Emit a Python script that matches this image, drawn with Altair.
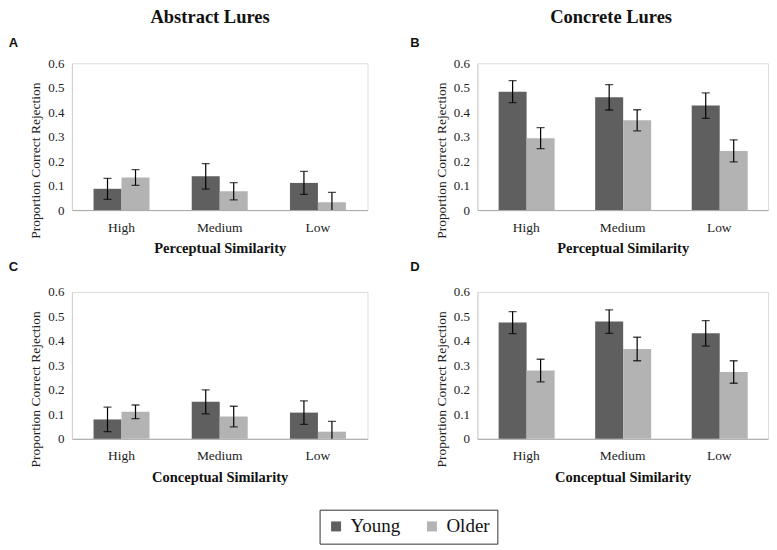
import altair as alt
import pandas as pd

levels = ["High", "Medium", "Low"]
groups = ["Young", "Older"]
colors = ["#5f5f5f", "#b3b3b3"]

# Panel A: Abstract lures, perceptual similarity
A_young = [0.087, 0.138, 0.111]
A_young_err = [0.043, 0.052, 0.047]
A_older = [0.133, 0.077, 0.032]
A_older_err = [0.032, 0.035, 0.040]

# Panel B: Concrete lures, perceptual similarity
B_young = [0.484, 0.461, 0.427]
B_young_err = [0.045, 0.052, 0.052]
B_older = [0.294, 0.367, 0.242]
B_older_err = [0.043, 0.043, 0.045]

# Panel C: Abstract lures, conceptual similarity
C_young = [0.079, 0.151, 0.107]
C_young_err = [0.050, 0.049, 0.048]
C_older = [0.110, 0.091, 0.029]
C_older_err = [0.028, 0.042, 0.042]

# Panel D: Concrete lures, conceptual similarity
D_young = [0.475, 0.479, 0.431]
D_young_err = [0.045, 0.048, 0.052]
D_older = [0.279, 0.367, 0.273]
D_older_err = [0.046, 0.048, 0.046]

y_ticks = [0, 0.1, 0.2, 0.3, 0.4, 0.5, 0.6]

SERIF = "Liberation Serif"
SANS = "Liberation Sans"
YTITLE = "Proportion Correct Rejection"


def panel(young, yerr, older, oerr, letter, xtitle, width, letter_dx, letter_offset):
    df = pd.DataFrame({
        "level": levels * 2,
        "group": ["Young"] * 3 + ["Older"] * 3,
        "value": young + older,
        "err": yerr + oerr,
    })
    base = alt.Chart(df).transform_calculate(
        lo="datum.value - datum.err", hi="datum.value + datum.err"
    )
    x = alt.X(
        "level:N", sort=levels, title=xtitle,
        scale=alt.Scale(paddingInner=0.43, paddingOuter=0.22),
        axis=alt.Axis(labelAngle=0, ticks=False, domainColor="#a6a6a6",
                      labelFont=SERIF, labelFontSize=13.5, labelColor="#222222",
                      labelPadding=10, titleFont=SERIF, titleFontSize=14.5,
                      titleFontWeight="bold", titleColor="#111111", titlePadding=8),
    )
    xo = alt.XOffset("group:N", sort=groups,
                     scale=alt.Scale(paddingInner=0, paddingOuter=0))
    yscale = alt.Scale(domain=[0, 0.6], nice=False)
    yaxis = alt.Axis(values=y_ticks, format="~g", ticks=False, grid=False,
                     domainColor="#d0d0d0", labelFont=SERIF, labelFontSize=13,
                     labelColor="#222222", labelPadding=8, titleFont=SERIF,
                     titleFontSize=13.5, titleFontWeight="normal",
                     titleColor="#222222", titlePadding=5, titleY=97)
    color = alt.Color(
        "group:N", sort=groups,
        scale=alt.Scale(domain=groups, range=colors),
        legend=alt.Legend(title=None, orient="none", direction="horizontal",
                          legendX=248, legendY=447, symbolType="square",
                          symbolSize=100, symbolStrokeWidth=0,
                          labelFont=SERIF, labelFontSize=19,
                          labelColor="#111111", labelOffset=5,
                          columnPadding=22, padding=7,
                          strokeColor="#333333"),
    )
    bars = base.mark_bar().encode(
        x=x, xOffset=xo,
        y=alt.Y("value:Q", scale=yscale, axis=yaxis, title=YTITLE),
        color=color,
    )
    rule = base.mark_rule(color="black", strokeWidth=1.2, clip=True).encode(
        x=x, xOffset=xo,
        y=alt.Y("lo:Q", scale=yscale, axis=yaxis, title=YTITLE),
        y2="hi:Q",
    )
    cap_hi = base.mark_tick(color="black", size=8, thickness=1.3, clip=True).encode(
        x=x, xOffset=xo,
        y=alt.Y("hi:Q", scale=yscale, axis=yaxis, title=YTITLE),
    )
    cap_lo = base.mark_tick(color="black", size=8, thickness=1.3, clip=True).encode(
        x=x, xOffset=xo,
        y=alt.Y("lo:Q", scale=yscale, axis=yaxis, title=YTITLE),
    )
    return alt.layer(bars, rule, cap_lo, cap_hi).properties(
        width=width, height=147,
        title=alt.TitleParams(letter, anchor="start", frame="bounds",
                              font=SANS, fontSize=13, fontWeight="bold",
                              color="#111111", dx=letter_dx, offset=letter_offset),
    )


pA = panel(A_young, A_young_err, A_older, A_older_err, "A", "Perceptual Similarity", 296, -20, 7)
pB = panel(B_young, B_young_err, B_older, B_older_err, "B", "Perceptual Similarity", 291, -24, 7)
pC = panel(C_young, C_young_err, C_older, C_older_err, "C", "Conceptual Similarity", 296, -20, 12)
pD = panel(D_young, D_young_err, D_older, D_older_err, "D", "Conceptual Similarity", 291, -24, 12)

col_title = dict(font=SERIF, fontSize=18.5, fontWeight="bold", color="#111111",
                 anchor="middle", dx=22, offset=10)

left = alt.vconcat(pA, pC, spacing=4,
                   title=alt.TitleParams("Abstract Lures", **col_title))
right = alt.vconcat(pB, pD, spacing=4,
                    title=alt.TitleParams("Concrete Lures", **col_title))

chart = alt.hconcat(left, right, spacing=41).properties(
    padding={"left": 0, "top": 0, "right": 0, "bottom": 0}
).configure_view(stroke=None).configure(font=SERIF)

chart.save("out.html", embed_options={"renderer": "svg", "actions": False})
